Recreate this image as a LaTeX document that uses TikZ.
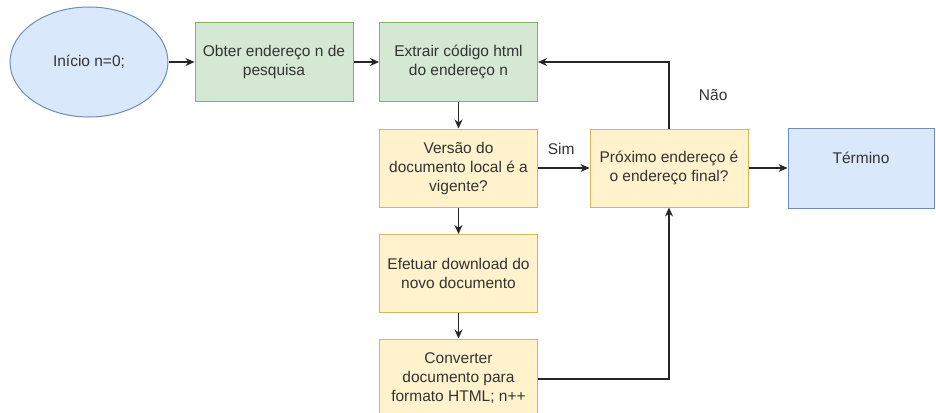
\documentclass[tikz,border=0pt]{standalone}
\usepackage{fontspec}
\setmainfont{Liberation Sans}
\usetikzlibrary{arrows.meta,shapes.geometric}
\definecolor{gfill}{HTML}{D5E8D4}
\definecolor{gline}{HTML}{82B366}
\definecolor{yfill}{HTML}{FFF2CC}
\definecolor{yline}{HTML}{D6B656}
\definecolor{bfill}{HTML}{DAE8FC}
\definecolor{bline}{HTML}{6C8EBF}
\definecolor{txt}{HTML}{333333}
\begin{document}
\begin{tikzpicture}[x=1pt,y=-1pt,
  every node/.style={font=\fontsize{15.5}{19}\selectfont, text=txt},
  box/.style={draw, line width=1pt, minimum width=158pt, minimum height=78pt, align=center, inner sep=0pt},
  gbox/.style={box, fill=gfill, draw=gline},
  ybox/.style={box, fill=yfill, draw=yline},
  bbox/.style={box, fill=bfill, draw=bline},
  conn/.style={draw=black!85, line width=1.2pt, -{Stealth[length=9pt,width=8pt]}},
  lbl/.style={font=\fontsize{15.5}{17}\selectfont}
]
\useasboundingbox (0,0) rectangle (936,412);
\begin{scope}
\clip (0,0) rectangle (936,412);
\node[ellipse, draw=bline, fill=bfill, line width=1pt, minimum width=158pt, minimum height=110pt, inner sep=0pt] (start) at (89,62) {Início n=0;};
\node[gbox] (obter) at (274,62) {Obter endereço n de\\pesquisa};
\node[gbox] (extrair) at (458.5,62) {Extrair código html\\do endereço n};
\node[ybox] (versao) at (458.5,168) {Versão do\\documento local é a\\vigente?};
\node[ybox] (proximo) at (669,168) {Próximo endereço é\\o endereço final?};
\node[bbox, minimum width=146pt, minimum height=80pt] (termino) at (861,168) {};
\node (terminotxt) at (861,158) {Término};
\node[ybox] (efetuar) at (458.5,273.5) {Efetuar download do\\novo documento};
\node[ybox] (converter) at (458.5,378) {Converter\\documento para\\formato HTML; n++};
\end{scope}
\draw[conn] (start.east) -- (obter.west);
\draw[conn] (obter.east) -- (extrair.west);
\draw[conn] (extrair.south) -- (versao.north);
\draw[conn] (versao.east) -- (proximo.west) node[lbl, pos=0.45, above=9pt] {Sim};
\draw[conn] (proximo.north) |- (extrair.east) node[lbl, pos=0.25, right=26pt] {Não};
\draw[conn] (proximo.east) -- (termino.west);
\draw[conn] (versao.south) -- (efetuar.north);
\draw[conn] (efetuar.south) -- (converter.north);
\draw[conn] (converter.east |- 0,379) -| (proximo.south);
\end{tikzpicture}
\end{document}
